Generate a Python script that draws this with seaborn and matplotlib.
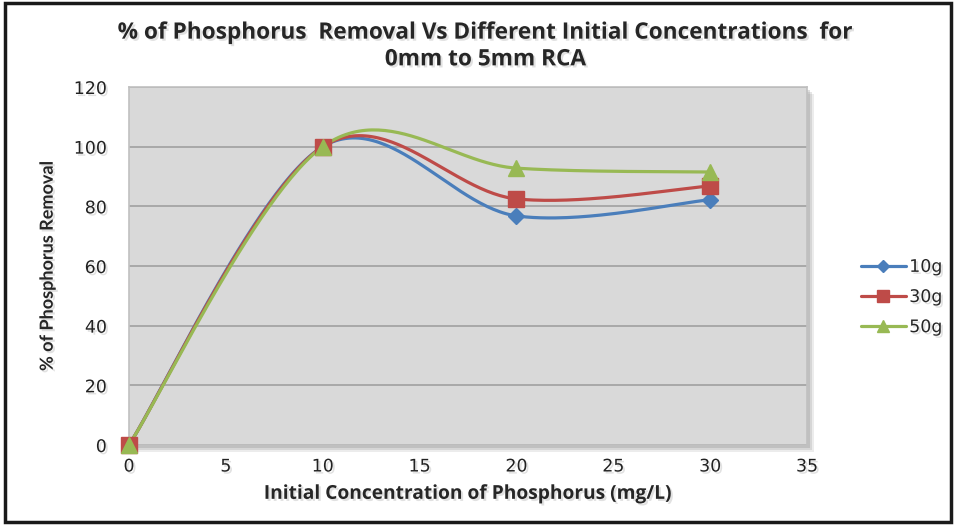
import numpy as np
import pandas as pd
import matplotlib
matplotlib.use("Agg")
import matplotlib.pyplot as plt
import matplotlib.patheffects as pe
from matplotlib.lines import Line2D
from matplotlib.patches import Rectangle
import seaborn as sns

# --- data ---
concentration = [0, 10, 20, 30]
removal_10g = [0, 100, 76.8, 82.2]
removal_30g = [0, 100, 82.5, 86.8]
removal_50g = [0, 100, 92.8, 91.5]
series_names = ["10g", "30g", "50g"]

colors = {"10g": "#4a7ebb", "30g": "#be4b48", "50g": "#98b954"}
markers = {"10g": "D", "30g": "s", "50g": "^"}
msizes = {"10g": 8, "30g": 11, "50g": 12}


def excel_smooth(x, y, n=60):
    # bezier smoothing like the spreadsheet "smoothed line" option
    x = np.asarray(x, float)
    y = np.asarray(y, float)
    px = np.concatenate([[x[0]], x, [x[-1]]])
    py = np.concatenate([[y[0]], y, [y[-1]]])
    xs, ys = [], []
    t = np.linspace(0, 1, n)
    for i in range(1, len(px) - 2):
        p0 = np.array([px[i], py[i]])
        p3 = np.array([px[i + 1], py[i + 1]])
        c1 = p0 + (np.array([px[i + 1], py[i + 1]]) - np.array([px[i - 1], py[i - 1]])) / 6
        c2 = p3 - (np.array([px[i + 2], py[i + 2]]) - np.array([px[i], py[i]])) / 6
        b = ((1 - t) ** 3)[:, None] * p0 + (3 * (1 - t) ** 2 * t)[:, None] * c1 \
            + (3 * (1 - t) * t ** 2)[:, None] * c2 + (t ** 3)[:, None] * p3
        xs.extend(b[:, 0])
        ys.extend(b[:, 1])
    return np.array(xs), np.array(ys)


points = pd.DataFrame({
    "conc": concentration * 3,
    "removal": removal_10g + removal_30g + removal_50g,
    "series": [s for s in series_names for _ in concentration],
})

curves = []
for name, vals in zip(series_names, [removal_10g, removal_30g, removal_50g]):
    cx, cy = excel_smooth(concentration, vals)
    curves.append(pd.DataFrame({"conc": cx, "removal": cy, "series": name}))
curves = pd.concat(curves, ignore_index=True)

sns.set_style("white")
plt.rcParams["font.family"] = ["DejaVu Sans"]

fig = plt.figure(figsize=(9.56, 5.26), dpi=100)
ax = fig.add_axes([129 / 956, 81 / 526, 678 / 956, 358 / 526])

shadow = [pe.withSimplePatchShadow(offset=(1.5, -1.5), shadow_rgbFace="#888888", alpha=0.25)]

# soft drop shadow behind the plot area
for k, a in zip([7, 5, 3], [0.15, 0.2, 0.25]):
    fig.patches.append(Rectangle(((129 + k) / 956, (81 - k) / 526), 678 / 956, 358 / 526,
                                 transform=fig.transFigure, facecolor="#808080",
                                 edgecolor="none", alpha=a, zorder=0))
# outer frame
fig.patches.append(Rectangle((5 / 956, 4 / 526), 946 / 956, 519 / 526,
                             transform=fig.transFigure, facecolor="none",
                             edgecolor="#1a1a1a", linewidth=2.5, zorder=5))

ax.set_facecolor("#d9d9d9")
ax.set_zorder(1)

for name in series_names:
    sub = curves[curves["series"] == name]
    sns.lineplot(data=sub, x="conc", y="removal", sort=False, color=colors[name],
                 linewidth=2.3, ax=ax, legend=False, zorder=3)
for name in series_names:
    sub = points[points["series"] == name]
    ax.plot(sub["conc"], sub["removal"], linestyle="none", marker=markers[name],
            markersize=msizes[name], color=colors[name], zorder=4, clip_on=False)

ax.set_xlim(0, 35)
ax.set_ylim(0, 120)
ax.set_xticks(range(0, 36, 5))
ax.set_yticks(range(0, 121, 20))
ax.yaxis.grid(True, color="#a8a8a8", linewidth=1.4)
ax.set_axisbelow(True)
for s in ax.spines.values():
    s.set_color("#c0c0c0")
    s.set_linewidth(1.2)
ax.tick_params(axis="both", length=0, labelsize=12.5, colors="#222222")
ax.tick_params(axis="x", pad=9)
ax.tick_params(axis="y", pad=16)
for lab in ax.get_xticklabels() + ax.get_yticklabels():
    lab.set_path_effects(shadow)

ax.set_xlabel("Initial Concentration of Phosphorus (mg/L)", family=["Open Sans", "DejaVu Sans"],
              fontweight="bold", fontsize=13.8, labelpad=6, path_effects=shadow)
ax.set_ylabel("% of Phosphorus Removal", family=["Liberation Sans Narrow", "Lato"],
              fontweight="bold", fontsize=13, labelpad=13, path_effects=shadow)

fig.text(485 / 956, 1 - 46 / 526,
         "% of Phosphorus  Removal Vs Different Initial Concentrations  for\n0mm to 5mm RCA",
         ha="center", va="center", family=["Open Sans", "DejaVu Sans"], fontweight="bold",
         fontsize=16.3, linespacing=1.15, path_effects=shadow)

handles = [Line2D([], [], color=colors[n], marker=markers[n], markersize=msizes[n] * 0.75,
                  linewidth=2.3) for n in series_names]
leg = fig.legend(handles, series_names, loc="center left",
                 bbox_to_anchor=(845 / 956, 1 - 297 / 526), frameon=False,
                 fontsize=12.5, handlelength=2.6, labelspacing=0.7, handletextpad=0.2)
for t in leg.get_texts():
    t.set_path_effects(shadow)

fig.savefig("out.png", dpi=100)
